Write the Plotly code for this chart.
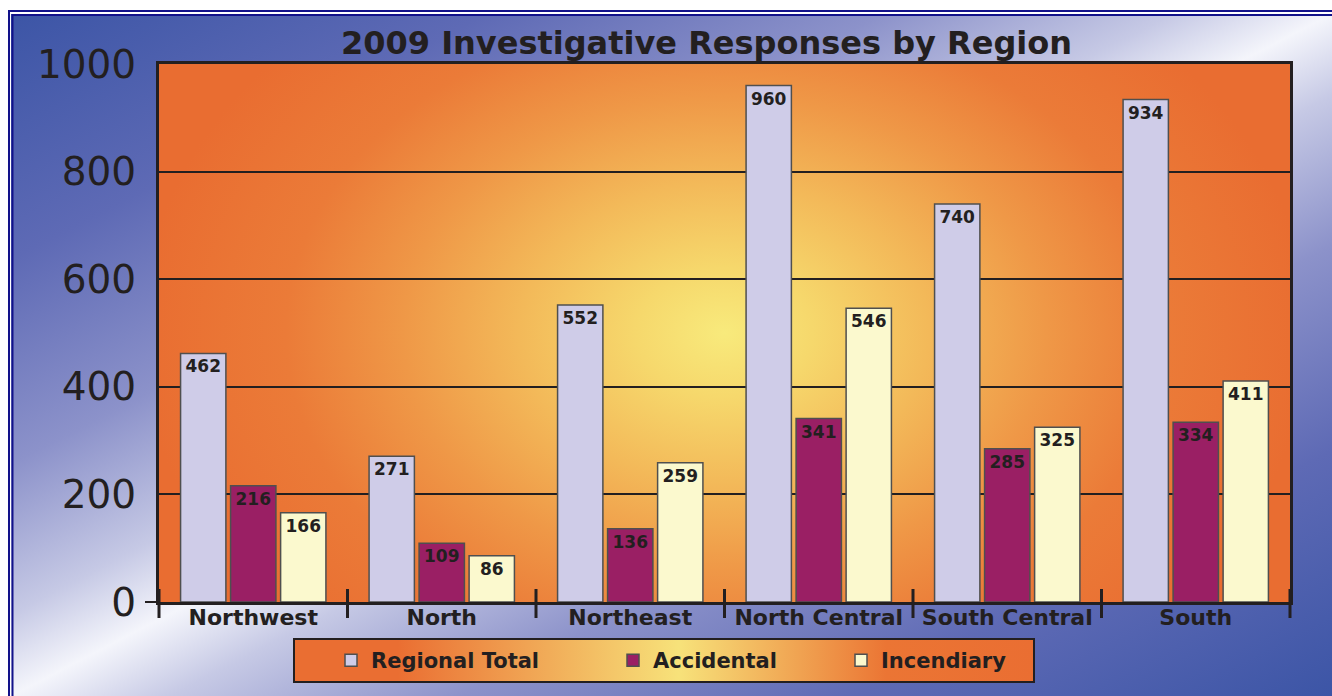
import base64
import plotly.graph_objects as go

# ---- data ----
regions = ["Northwest", "North", "Northeast", "North Central", "South Central", "South"]
regional_total = [462, 271, 552, 960, 740, 934]
accidental = [216, 109, 136, 341, 285, 334]
incendiary = [166, 86, 259, 546, 325, 411]

series_names = ["Regional Total", "Accidental", "Incendiary"]
series_values = [regional_total, accidental, incendiary]
series_colors = ["#CFCCE8", "#9A1F64", "#FBF9CE"]
legend_widths = [237, 183, 160]

y_ticks = [0, 200, 400, 600, 800, 1000]

# ---- page geometry (pixels) ----
W, H = 1332, 696
M_L, M_R, M_T, M_B = 159, 42, 64, 94
PW = W - M_L - M_R
PH = H - M_T - M_B
INK = "#231F20"


def px_x(p):
    return (p - M_L) / PW


def px_y(p):
    return (H - M_B - p) / PH


def svg_uri(svg):
    return "data:image/svg+xml;base64," + base64.b64encode(svg.encode("utf-8")).decode("ascii")


def stops_svg(stops):
    return "".join(f'<stop offset="{o}" stop-color="{c}"/>' for o, c in stops)


# diagonal blue backdrop: dark corners top-left / bottom-right, pale band between
bg_w, bg_h = W - 11, H - 14
page_svg = (
    f'<svg xmlns="http://www.w3.org/2000/svg" width="{bg_w}" height="{bg_h}" '
    f'viewBox="0 0 {bg_w} {bg_h}" preserveAspectRatio="none"><defs>'
    f'<linearGradient id="g" x1="0" y1="0" x2="1" y2="1">'
    + stops_svg([(0, "#3C55A6"), (0.18, "#5E6AB5"), (0.33, "#8C92CA"),
                 (0.44, "#C6C9E5"), (0.5, "#F4F5FB"), (0.56, "#C6C9E5"),
                 (0.67, "#8C92CA"), (0.82, "#5E6AB5"), (1, "#3C55A6")])
    + f'</linearGradient></defs><rect width="{bg_w}" height="{bg_h}" fill="url(#g)"/></svg>'
)

# warm radial glow inside the plotting area
plot_svg = (
    f'<svg xmlns="http://www.w3.org/2000/svg" width="{PW}" height="{PH}" '
    f'viewBox="0 0 {PW} {PH}" preserveAspectRatio="none"><defs>'
    f'<radialGradient id="r" gradientUnits="userSpaceOnUse" cx="{PW/2}" cy="{PH/2}" r="430" '
    f'gradientTransform="translate({PW/2} {PH/2}) scale(1.36 1) translate({-PW/2} {-PH/2})">'
    + stops_svg([(0, "#F8EA7C"), (0.15, "#F6D86C"), (0.35, "#F3B959"),
                 (0.55, "#EF9847"), (0.75, "#EB7B38"), (1, "#E96D31")])
    + f'</radialGradient></defs><rect width="{PW}" height="{PH}" fill="url(#r)"/></svg>'
)

# legend panel
LG_L, LG_R, LG_T, LG_B = 294, 1034, 639, 682
lg_w, lg_h = LG_R - LG_L, LG_B - LG_T
legend_svg = (
    f'<svg xmlns="http://www.w3.org/2000/svg" width="{lg_w}" height="{lg_h}" '
    f'viewBox="0 0 {lg_w} {lg_h}" preserveAspectRatio="none"><defs>'
    f'<linearGradient id="l" x1="0" y1="0" x2="1" y2="0">'
    + stops_svg([(0, "#EA6E32"), (0.14, "#EA6E32"), (0.52, "#F7E27A"),
                 (0.8, "#EB7534"), (1, "#EA6E32")])
    + f'</linearGradient></defs><rect width="{lg_w}" height="{lg_h}" fill="url(#l)"/></svg>'
)

fig = go.Figure()

for name, vals, color, lw in zip(series_names, series_values, series_colors, legend_widths):
    fig.add_trace(go.Bar(
        x=regions,
        y=vals,
        name=name,
        marker=dict(color=color, line=dict(color="#4F4F4F", width=1.5)),
        text=vals,
        texttemplate="%{y}",
        textposition="inside",
        insidetextanchor="end",
        textangle=0,
        constraintext="none",
        insidetextfont=dict(family="DejaVu Sans", size=17, color=INK, weight="bold"),
        legendwidth=lw,
        hoverinfo="x+y+name",
    ))

shapes = []
# double frame along the left and top of the page
for inset_x, inset_y in [(9, 11), (12.5, 15)]:
    shapes.append(dict(type="path", xref="paper", yref="paper",
                       path=(f"M {px_x(inset_x)} {px_y(H + 20)} "
                             f"L {px_x(inset_x)} {px_y(inset_y)} "
                             f"L {px_x(W + 20)} {px_y(inset_y)}"),
                       line=dict(color="#12128A", width=2), layer="above"))
# group separators crossing the category axis
n = len(regions)
for k in range(n + 1):
    shapes.append(dict(type="line", xref="x domain", yref="paper",
                       x0=k / n, x1=k / n, y0=px_y(618), y1=px_y(589),
                       line=dict(color=INK, width=3), layer="above"))
# short stub of the baseline to the left of the value axis
shapes.append(dict(type="line", xref="paper", yref="paper",
                   x0=px_x(145), x1=0, y0=0, y1=0,
                   line=dict(color=INK, width=2), layer="above"))
# legend panel border
shapes.append(dict(type="rect", xref="paper", yref="paper",
                   x0=px_x(LG_L), x1=px_x(LG_R), y0=px_y(LG_B), y1=px_y(LG_T),
                   line=dict(color=INK, width=2), fillcolor="rgba(0,0,0,0)",
                   layer="above"))

images = [
    dict(source=svg_uri(page_svg), xref="paper", yref="paper",
         x=px_x(11), y=px_y(14), sizex=bg_w / PW, sizey=bg_h / PH,
         xanchor="left", yanchor="top", sizing="stretch", layer="below"),
    dict(source=svg_uri(plot_svg), xref="x domain", yref="y domain",
         x=0, y=1, sizex=1, sizey=1,
         xanchor="left", yanchor="top", sizing="stretch", layer="below"),
    dict(source=svg_uri(legend_svg), xref="paper", yref="paper",
         x=px_x(LG_L), y=px_y(LG_T), sizex=lg_w / PW, sizey=lg_h / PH,
         xanchor="left", yanchor="top", sizing="stretch", layer="below"),
]

fig.update_layout(
    width=W, height=H,
    margin=dict(l=M_L, r=M_R, t=M_T, b=M_B, pad=0),
    paper_bgcolor="white",
    plot_bgcolor="rgba(0,0,0,0)",
    barmode="group",
    bargap=0.204,
    bargroupgap=0.094,
    font=dict(family="DejaVu Sans", color=INK),
    title=dict(
        text="2009 Investigative Responses by Region",
        font=dict(family="DejaVu Sans", size=32, color=INK, weight="bold"),
        x=706.5 / W, xref="container", xanchor="center",
        y=1 - 43 / H, yref="container", yanchor="middle",
    ),
    xaxis=dict(
        showline=True, mirror=True, linecolor=INK, linewidth=3,
        ticks="", showgrid=False,
        tickfont=dict(family="DejaVu Sans", size=22, color=INK, weight="bold"),
        ticklabelstandoff=-6,
    ),
    yaxis=dict(
        range=[0, 1000], tickvals=y_ticks,
        showline=True, mirror=True, linecolor=INK, linewidth=3,
        showgrid=True, gridcolor=INK, gridwidth=2, zeroline=False,
        ticks="", ticklabelstandoff=12,
        tickfont=dict(family="DejaVu Sans", size=39, color=INK),
    ),
    showlegend=True,
    legend=dict(
        orientation="h",
        x=px_x(331), xanchor="left",
        y=px_y((LG_T + LG_B) / 2), yanchor="middle",
        bgcolor="rgba(0,0,0,0)", borderwidth=0,
        font=dict(family="DejaVu Sans", size=21, color=INK, weight="bold"),
        traceorder="normal",
    ),
    shapes=shapes,
    images=images,
)

fig.write_html("out.html")
